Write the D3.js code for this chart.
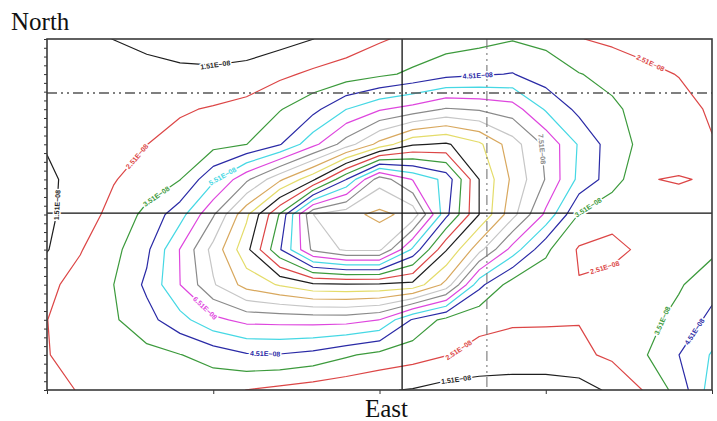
<!DOCTYPE html>
<html>
<head>
<meta charset="utf-8">
<script src="https://cdn.jsdelivr.net/npm/d3@7"></script>
<style>
body { margin: 0; background: #fff; overflow: hidden; }
svg { display: block; }
</style>
</head>
<body>
<div id="chart"></div>
<script>
// values (units of 1e-8), one row per northing line, west -> east
var rowN00 = [1.8, 1.7, 1.5, 1.25, 1.0, 0.95, 1.05, 1.15, 1.5, 2.0, 2.4, 2.75, 3.0, 3.2, 3.45, 3.3, 2.55, 2.3, 2.2, 2.2, 2.2];
var rowN01 = [1.9, 1.95, 1.95, 1.85, 1.75, 1.7, 1.8, 2.3, 2.7, 2.95, 3.3, 3.7, 4.2, 4.4, 4.55, 3.95, 3.55, 3.2, 2.7, 2.48, 2.3];
var rowN02 = [1.85, 2.0, 2.15, 2.25, 2.4, 2.6, 2.9, 3.45, 4.2, 5.5, 6.4, 6.9, 7.6, 7.4, 7.0, 5.4, 4.25, 3.7, 3.1, 2.8, 2.4];
var rowN03 = [1.6, 2.0, 2.25, 2.5, 2.85, 3.18, 3.5, 4.43, 6.2, 8.0, 9.85, 11.4, 11.65, 10.7, 8.95, 7.3, 5.4, 4.0, 3.2, 3.0, 2.56];
var rowN04 = [1.3, 1.9, 2.45, 2.95, 3.48, 5.3, 7.3, 9.3, 11.3, 14.5, 18.1, 16.45, 15.2, 11.5, 9.3, 7.45, 5.26, 4.0, 2.55, 2.45, 2.6];
var rowN05 = [1.3, 2.03, 2.8, 3.78, 5.1, 7.4, 10.3, 13.6, 18.5, 19.2, 19.75, 19.2, 14.8, 11.5, 8.85, 6.3, 3.45, 2.65, 2.8, 2.9, 2.9];
var rowN06 = [1.45, 2.45, 3.23, 4.3, 6.55, 8.85, 11.2, 14.4, 17.75, 18.7, 18.7, 15.3, 11.6, 8.85, 6.1, 3.7, 2.4, 2.4, 2.6, 2.9, 3.3];
var rowN07 = [2.3, 2.84, 3.5, 4.7, 6.5, 8.4, 9.9, 10.6, 11.3, 11.4, 11.35, 11.2, 9.2, 4.8, 3.0, 2.9, 2.55, 2.65, 3.0, 3.4, 4.1];
var rowN08 = [2.5, 2.94, 3.38, 4.17, 5.16, 6.26, 6.8, 6.85, 6.9, 6.9, 6.5, 4.4, 3.2, 2.7, 2.6, 2.6, 2.55, 2.8, 3.2, 3.8, 4.8];
var rowN09 = [2.5, 2.6, 2.85, 3.2, 3.48, 3.9, 4.4, 4.45, 4.2, 3.65, 3.2, 2.9, 2.55, 2.3, 2.2, 2.15, 2.3, 2.7, 3.45, 4.5, 5.6];
var rowN10 = [2.3, 2.55, 2.8, 2.95, 3.0, 2.85, 2.5, 2.25, 2.0, 1.8, 1.6, 1.45, 1.15, 1.0, 0.95, 1.0, 1.1, 1.7, 2.6, 3.9, 6.0];
var grid = [rowN00, rowN01, rowN02, rowN03, rowN04, rowN05, rowN06, rowN07, rowN08, rowN09, rowN10];

// contour levels and their pen colours
var levels = [1.51, 2.51, 3.51, 4.51, 5.51, 6.51, 7.51, 8.51, 9.51, 10.51,
              11.51, 12.51, 13.51, 14.51, 15.51, 16.51, 17.51, 18.51, 19.51];
var penColors = ["#1e1e1e", "#dc4646", "#3c9a3c", "#2a2aa6", "#46d8e4", "#de46de", "#8a8a8a", "#c6c6c6", "#d8a85e", "#e4dc6a",
                 "#1e1e1e", "#dc4646", "#3c9a3c", "#2a2aa6", "#46d8e4", "#de46de", "#8a8a8a", "#c6c6c6", "#d8a85e"];

// reference lines (grid units)
var solidCross = { east: 10.68, north: 4.96 };
var dashCross = { east: 13.23, north: 1.54 };
var eastTicks = [0, 5, 10, 15, 20];

// where the contour labels sit (level index, grid units)
var labelSpots = [
  { level: 0, east: 5.05, north: 0.66 },
  { level: 0, east: 0.30, north: 4.73 },
  { level: 0, east: 12.27, north: 9.49 },
  { level: 1, east: 2.65, north: 3.30 },
  { level: 1, east: 12.42, north: 8.92 },
  { level: 1, east: 16.78, north: 6.52 },
  { level: 1, east: 18.08, north: 0.83 },
  { level: 2, east: 3.40, north: 4.64 },
  { level: 2, east: 16.27, north: 4.79 },
  { level: 2, east: 18.59, north: 8.06 },
  { level: 3, east: 12.96, north: 1.11 },
  { level: 3, east: 6.56, north: 9.0 },
  { level: 3, east: 19.40, north: 8.29 },
  { level: 4, east: 5.29, north: 3.93 },
  { level: 5, east: 4.90, north: 7.52 },
  { level: 6, east: 14.62, north: 3.16 }
];

var width = 717, height = 421;
var plotLeft = 47, plotRight = 712, plotTop = 39, plotBottom = 390;

var svg = d3.select('#chart').append('svg')
    .attr('width', width)
    .attr('height', height);

svg.append('rect').attr('width', width).attr('height', height).attr('fill', '#fff');

var xScale = d3.scaleLinear().domain([0, 20]).range([plotLeft, plotRight]);
var yScale = d3.scaleLinear().domain([0, 10]).range([plotTop, plotBottom]);

// pad the grid by one cell on each side so the closing edges of the rings fall outside the frame
var nx = grid[0].length + 2, ny = grid.length + 2;
var values = [];
for (var j = 0; j < ny; j++) {
    var src = grid[Math.max(0, Math.min(grid.length - 1, j - 1))];
    for (var i = 0; i < nx; i++) {
        values.push(src[Math.max(0, Math.min(src.length - 1, i - 1))]);
    }
}

var contours = d3.contours().size([nx, ny]).thresholds(levels)(values);

var toPx = function(p) { return [xScale(p[0] - 1.5), yScale(p[1] - 1.5)]; };
var path = d3.geoPath(d3.geoTransform({
    point: function(x, y) { var q = toPx([x, y]); this.stream.point(q[0], q[1]); }
}));

svg.append('clipPath').attr('id', 'plot')
  .append('rect')
    .attr('x', plotLeft).attr('y', plotTop)
    .attr('width', plotRight - plotLeft).attr('height', plotBottom - plotTop);

var plot = svg.append('g').attr('clip-path', 'url(#plot)');

plot.selectAll('path.iso')
    .data(contours)
  .enter().append('path')
    .attr('class', 'iso')
    .attr('d', path)
    .attr('fill', 'none')
    .attr('stroke', function(d, i) { return penColors[i]; })
    .attr('stroke-width', 1.2)
    .attr('stroke-linejoin', 'round');

// reference lines
plot.append('line')
    .attr('x1', plotLeft).attr('x2', plotRight)
    .attr('y1', yScale(dashCross.north)).attr('y2', yScale(dashCross.north))
    .attr('stroke', '#555').attr('stroke-width', 1.6)
    .attr('stroke-dasharray', '10,4,2,4,2,4');
plot.append('line')
    .attr('x1', xScale(dashCross.east)).attr('x2', xScale(dashCross.east))
    .attr('y1', plotTop).attr('y2', plotBottom)
    .attr('stroke', '#777').attr('stroke-width', 1.1)
    .attr('stroke-dasharray', '10,4,2,4,2,4');
plot.append('line')
    .attr('x1', plotLeft).attr('x2', plotRight)
    .attr('y1', yScale(solidCross.north)).attr('y2', yScale(solidCross.north))
    .attr('stroke', '#111').attr('stroke-width', 1.3);
plot.append('line')
    .attr('x1', xScale(solidCross.east)).attr('x2', xScale(solidCross.east))
    .attr('y1', plotTop).attr('y2', plotBottom)
    .attr('stroke', '#111').attr('stroke-width', 1.3);

// contour labels, snapped onto the nearest segment of their ring
function sci(v) {
    var e = Math.floor(Math.log10(v));
    return (v / Math.pow(10, e)).toFixed(2) + 'E\u2212' + d3.format('02')(8 - e);
}

labelSpots.forEach(function(s) {
    var target = [xScale(s.east), yScale(s.north)];
    var best = null;
    contours[s.level].coordinates.forEach(function(poly) {
        poly.forEach(function(ring) {
            for (var k = 1; k < ring.length; k++) {
                var a = toPx(ring[k - 1]), b = toPx(ring[k]);
                var dx = b[0] - a[0], dy = b[1] - a[1];
                var len2 = dx * dx + dy * dy;
                if (!len2) continue;
                var t = Math.max(0, Math.min(1, ((target[0] - a[0]) * dx + (target[1] - a[1]) * dy) / len2));
                var px = a[0] + t * dx, py = a[1] + t * dy;
                var dist = Math.hypot(px - target[0], py - target[1]);
                if (!best || dist < best.dist) best = { dist: dist, x: px, y: py, ang: Math.atan2(dy, dx) * 180 / Math.PI };
            }
        });
    });
    if (!best) return;
    var ang = best.ang;
    if (ang > 90) ang -= 180;
    if (ang < -90) ang += 180;
    plot.append('text')
        .attr('transform', 'translate(' + best.x + ',' + best.y + ') rotate(' + ang + ')')
        .attr('dy', '0.35em')
        .attr('text-anchor', 'middle')
        .style('font-family', '"Liberation Sans", Arial, sans-serif')
        .style('font-size', '7px')
        .style('font-weight', 'bold')
        .style('paint-order', 'stroke')
        .attr('stroke', '#fff').attr('stroke-width', 3)
        .attr('fill', penColors[s.level])
        .text(sci(levels[s.level]));
});

// frame and ticks
var yAxis = d3.axisLeft(yScale).tickValues(d3.range(0, 10.001, 0.25)).tickSize(3).tickFormat('');
var xAxis = d3.axisBottom(xScale).tickValues(eastTicks).tickSize(4).tickFormat('');

svg.append('g').attr('class', 'y axis')
    .attr('transform', 'translate(' + plotLeft + ',0)')
    .call(yAxis)
    .call(function(g) { g.select('.domain').remove(); g.selectAll('line').attr('stroke', '#333'); });
svg.append('g').attr('class', 'x axis')
    .attr('transform', 'translate(0,' + plotBottom + ')')
    .call(xAxis)
    .call(function(g) { g.select('.domain').remove(); g.selectAll('line').attr('stroke', '#333'); });

svg.append('rect')
    .attr('x', plotLeft).attr('y', plotTop)
    .attr('width', plotRight - plotLeft).attr('height', plotBottom - plotTop)
    .attr('fill', 'none').attr('stroke', '#3a3a3a').attr('stroke-width', 1.6);

svg.append('text')
    .attr('x', 11).attr('y', 30)
    .style('font-family', '"Liberation Serif", "Times New Roman", serif')
    .style('font-size', '25px')
    .attr('fill', '#111')
    .text('North');

svg.append('text')
    .attr('x', 365).attr('y', 417)
    .style('font-family', '"Liberation Serif", "Times New Roman", serif')
    .style('font-size', '25px')
    .attr('fill', '#111')
    .text('East');
</script>
</body>
</html>
